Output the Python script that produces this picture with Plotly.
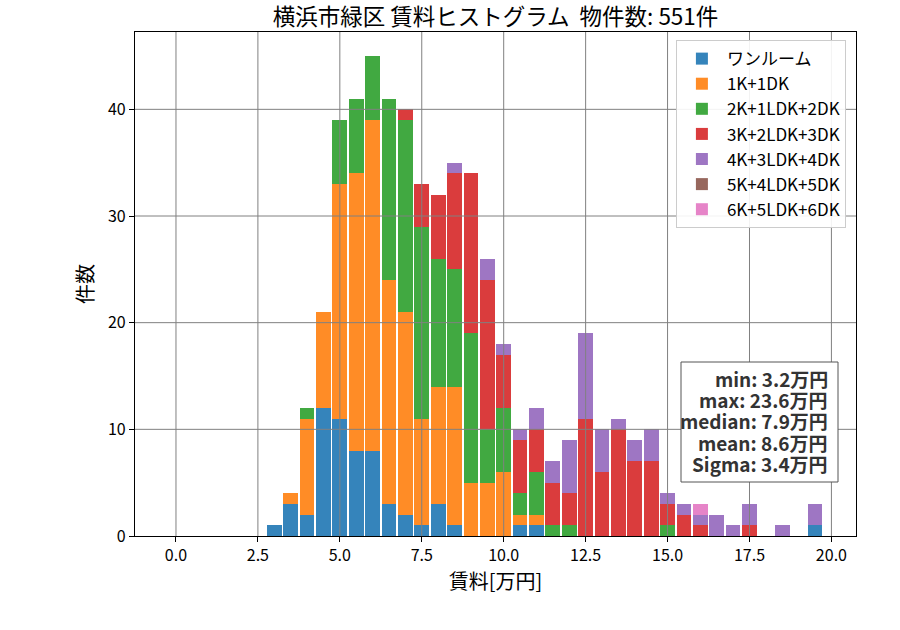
import plotly.graph_objects as go

# bin centers (万円), bin width 0.5
bin_centers = [3.0, 3.5, 4.0, 4.5, 5.0, 5.5, 6.0, 6.5, 7.0, 7.5, 8.0, 8.5, 9.0, 9.5,
               10.0, 10.5, 11.0, 11.5, 12.0, 12.5, 13.0, 13.5, 14.0, 14.5, 15.0, 15.5,
               16.0, 16.5, 17.0, 17.5, 18.0, 18.5, 19.0, 19.5]

one_room = [1, 3, 2, 12, 11, 8, 8, 3, 2, 1, 3, 1, 0, 0, 0, 1, 1, 0, 0, 0, 0, 0, 0, 0, 0, 0, 0, 0, 0, 0, 0, 0, 0, 1]
k1 = [0, 1, 9, 9, 22, 26, 31, 21, 19, 10, 11, 13, 5, 5, 6, 1, 1, 0, 0, 0, 0, 0, 0, 0, 0, 0, 0, 0, 0, 0, 0, 0, 0, 0]
k2 = [0, 0, 1, 0, 6, 7, 6, 17, 18, 18, 12, 11, 14, 5, 6, 2, 4, 1, 1, 0, 0, 0, 0, 0, 1, 0, 0, 0, 0, 0, 0, 0, 0, 0]
k3 = [0, 0, 0, 0, 0, 0, 0, 0, 1, 4, 6, 9, 15, 14, 5, 5, 4, 4, 3, 11, 6, 10, 7, 7, 2, 2, 1, 0, 0, 1, 0, 0, 0, 0]
k4 = [0, 0, 0, 0, 0, 0, 0, 0, 0, 0, 0, 1, 0, 2, 1, 1, 2, 2, 5, 8, 4, 1, 2, 3, 1, 1, 1, 2, 1, 2, 0, 1, 0, 2]
k5 = [0] * 34
k6 = [0, 0, 0, 0, 0, 0, 0, 0, 0, 0, 0, 0, 0, 0, 0, 0, 0, 0, 0, 0, 0, 0, 0, 0, 0, 0, 1, 0, 0, 0, 0, 0, 0, 0]

series_names = ["ワンルーム", "1K+1DK", "2K+1LDK+2DK", "3K+2LDK+3DK", "4K+3LDK+4DK", "5K+4LDK+5DK", "6K+5LDK+6DK"]
series_values = [one_room, k1, k2, k3, k4, k5, k6]
colors = ["rgba(31,119,180,0.9)", "rgba(255,127,14,0.9)", "rgba(44,160,44,0.9)",
          "rgba(214,39,40,0.9)", "rgba(148,103,189,0.9)", "rgba(140,86,75,0.9)",
          "rgba(227,119,194,0.9)"]

x_ticks = [0.0, 2.5, 5.0, 7.5, 10.0, 12.5, 15.0, 17.5, 20.0]
y_ticks = [0, 10, 20, 30, 40]

stats_lines = ["min: 3.2万円", "max: 23.6万円", "median: 7.9万円", "mean: 8.6万円", "Sigma: 3.4万円"]
title_text = "横浜市緑区 賃料ヒストグラム  物件数: 551件"

FONT = "Noto Sans CJK JP"

# plot area in pixels
L, R, T, B = 135, 856, 32, 536
PW, PH = R - L, B - T

def px_x(p):
    return (p - L) / PW

def px_y(p):
    return (B - p) / PH

fig = go.Figure()
for name, vals, col in zip(series_names, series_values, colors):
    fig.add_trace(go.Bar(x=bin_centers, y=vals, name=name, width=0.45, legendgroup=name,
                         marker=dict(color=col, line=dict(width=0))))

shapes = []
for xv in x_ticks:
    shapes.append(dict(type="line", xref="x", yref="paper", x0=xv, x1=xv, y0=0, y1=1,
                       line=dict(color="#808080", width=1), layer="above"))
for yv in y_ticks[1:]:
    shapes.append(dict(type="line", xref="paper", yref="y", x0=0, x1=1, y0=yv, y1=yv,
                       line=dict(color="#808080", width=1), layer="above"))
# stats box
shapes.append(dict(type="rect", xref="paper", yref="paper",
                   x0=px_x(681), x1=px_x(838), y0=px_y(482), y1=px_y(362),
                   fillcolor="white", line=dict(color="#555555", width=1), layer="above"))

annotations = []
line_y0, line_dy = 378, 21.4
for i, s in enumerate(stats_lines):
    annotations.append(dict(
        text=f"<b>{s}</b>", xref="paper", yref="paper",
        x=px_x(830), y=px_y(line_y0 + i * line_dy),
        xanchor="right", yanchor="middle", align="right", showarrow=False,
        font=dict(size=19, family=FONT, color="#333333")))

fig.update_layout(
    width=900, height=630,
    barmode="stack", bargap=0,
    paper_bgcolor="white", plot_bgcolor="white",
    margin=dict(l=L, r=900 - R, t=T, b=630 - B),
    font=dict(family=FONT, color="black", size=16),
    title=dict(text=title_text, x=(L + R) / 2 / 900, xanchor="center",
               y=1 - 17 / 630, yanchor="middle", font=dict(size=22.5, family=FONT)),
    xaxis=dict(range=[-1.25, 20.75], tickvals=x_ticks, ticktext=[f"{v:.1f}" for v in x_ticks],
               showgrid=False, zeroline=False, showline=True, mirror=True,
               linecolor="black", linewidth=1.2, ticks="outside", ticklen=5,
               tickcolor="black", tickfont=dict(size=16),
               title=dict(text="賃料[万円]", font=dict(size=20), standoff=4)),
    yaxis=dict(range=[0, 47.25], tickvals=y_ticks, showgrid=False, zeroline=False,
               showline=True, mirror=True, linecolor="black", linewidth=1.2,
               ticks="outside", ticklen=5, tickcolor="black", tickfont=dict(size=16),
               title=dict(text="件数", font=dict(size=20), standoff=8)),
    legend=dict(x=0.986, y=0.984, xanchor="right", yanchor="top",
                bgcolor="rgba(255,255,255,0.9)", bordercolor="#cccccc", borderwidth=1,
                font=dict(size=17, family=FONT), tracegroupgap=4, itemwidth=40,
                traceorder="normal"),
    shapes=shapes,
    annotations=annotations,
)

fig.write_html("out.html")
